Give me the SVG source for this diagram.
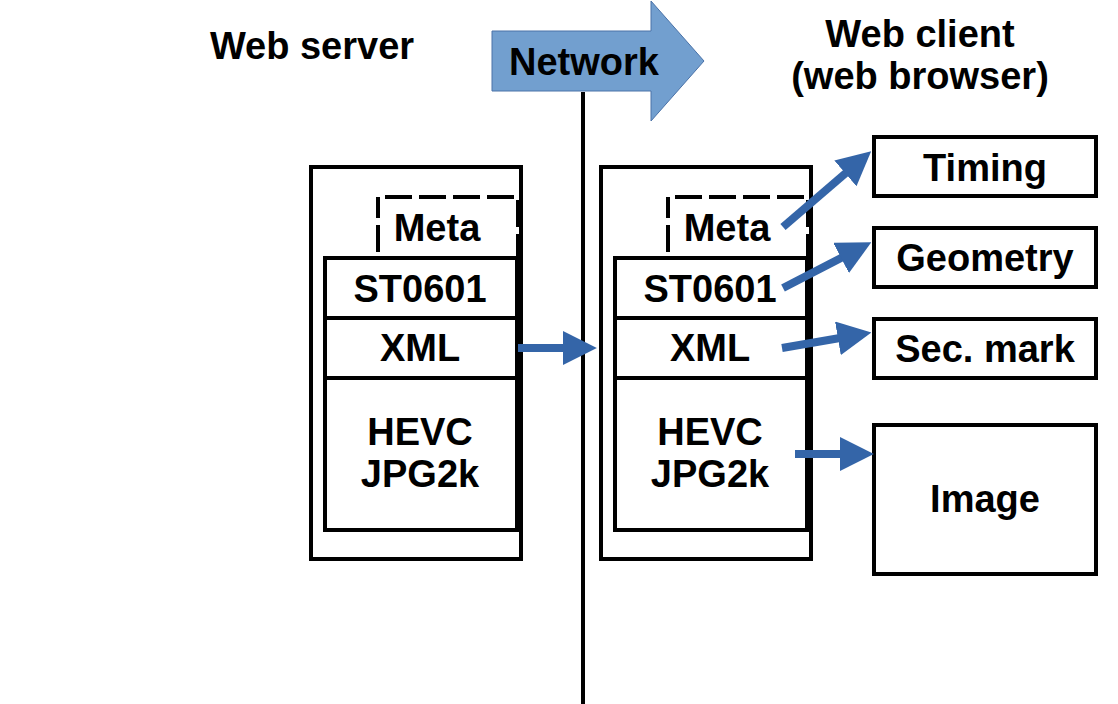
<svg xmlns="http://www.w3.org/2000/svg" width="1118" height="704" viewBox="0 0 1118 704">
<style>
text{font-family:"Liberation Sans",Arial,sans-serif;font-weight:bold;fill:#000;text-anchor:middle}
.t{font-size:38px}
.h{font-size:38px}
.box{fill:none;stroke:#000;stroke-width:4}
.dash{fill:none;stroke:#000;stroke-width:4;stroke-dasharray:27 7;stroke-dashoffset:27}
.arr{stroke:#3465a8;stroke-width:8;fill:none;marker-end:url(#ah)}
</style>
<defs>
<marker id="ah" markerUnits="userSpaceOnUse" markerWidth="34" markerHeight="34" viewBox="0 0 32 32" refX="2" refY="16" orient="auto">
<path d="M0,0 L32,16 L0,32 Z" fill="#3465a8"/>
</marker>
</defs>
<rect width="1118" height="704" fill="#fff"/>
<g id="titles">
<text class="h" x="312" y="59">Web server</text>
<text class="h" x="920" y="47">Web client</text>
<text class="h" x="920" y="89">(web browser)</text>
</g>
<g id="network">
<path d="M492,31 L651,31 L651,1 L704,61 L651,121 L651,91 L492,91 Z" fill="#729fcf" stroke="#4a72a8" stroke-width="1"/>
<text class="t" x="584" y="75">Network</text>
<line x1="583" y1="92" x2="583" y2="704" stroke="#000" stroke-width="4"/>
</g>
<g id="server">
<rect class="box" x="311" y="167" width="210" height="392"/>
<rect class="dash" x="378" y="197" width="140" height="61"/>
<rect class="box" x="325" y="258" width="193" height="272"/>
<line x1="518" y1="258" x2="518" y2="530" stroke="#000" stroke-width="6"/>
<line x1="325" y1="318" x2="518" y2="318" stroke="#000" stroke-width="4"/>
<line x1="325" y1="378" x2="518" y2="378" stroke="#000" stroke-width="4"/>
<text class="t" x="437" y="241">Meta</text>
<text class="t" x="420" y="302">ST0601</text>
<text class="t" x="420" y="361">XML</text>
<text class="t" x="420" y="445">HEVC</text>
<text class="t" x="420" y="487">JPG2k</text>
</g>
<g id="client">
<rect class="box" x="601" y="167" width="210" height="392"/>
<rect class="dash" x="668" y="197" width="140" height="61"/>
<rect class="box" x="615" y="258" width="193" height="272"/>
<line x1="808" y1="258" x2="808" y2="530" stroke="#000" stroke-width="6"/>
<line x1="615" y1="318" x2="808" y2="318" stroke="#000" stroke-width="4"/>
<line x1="615" y1="378" x2="808" y2="378" stroke="#000" stroke-width="4"/>
<text class="t" x="727" y="241">Meta</text>
<text class="t" x="710" y="302">ST0601</text>
<text class="t" x="710" y="361">XML</text>
<text class="t" x="710" y="445">HEVC</text>
<text class="t" x="710" y="487">JPG2k</text>
</g>
<g id="timing">
<rect class="box" x="874" y="137" width="222" height="59"/>
<text class="t" x="985" y="181">Timing</text>
</g>
<g id="geometry">
<rect class="box" x="874" y="228" width="222" height="59"/>
<text class="t" x="985" y="271">Geometry</text>
</g>
<g id="secmark">
<rect class="box" x="874" y="319" width="222" height="59"/>
<text class="t" x="985" y="362">Sec. mark</text>
</g>
<g id="image">
<rect class="box" x="874" y="425" width="222" height="149"/>
<text class="t" x="985" y="512">Image</text>
</g>
<g id="connectors">
<line class="arr" x1="518" y1="348" x2="565" y2="348"/>
<line class="arr" x1="783" y1="227" x2="847" y2="172"/>
<line class="arr" x1="783" y1="288" x2="843" y2="257"/>
<line class="arr" x1="782" y1="348" x2="840" y2="338"/>
<line class="arr" x1="795" y1="454" x2="842" y2="454"/>
</g>
</svg>
